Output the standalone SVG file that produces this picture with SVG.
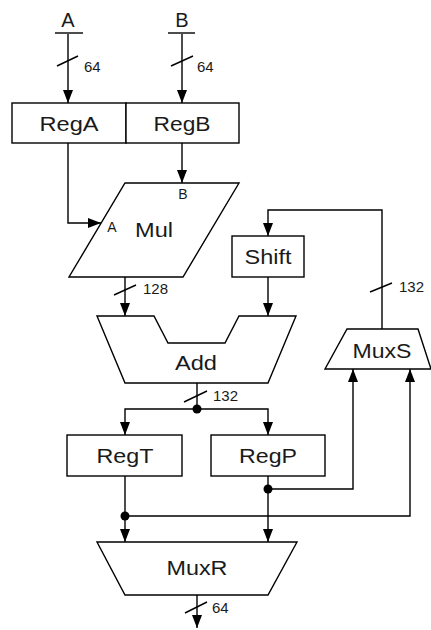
<svg xmlns="http://www.w3.org/2000/svg" width="431" height="630" viewBox="0 0 431 630">
<style>
.s{fill:#fff;stroke:#000;stroke-width:1.4}
.w{fill:none;stroke:#000;stroke-width:1.4}
.t{font-family:"Liberation Sans",Arial,sans-serif;font-size:20px;fill:#1a1a1a;text-anchor:middle}
.n{font-family:"Liberation Sans",Arial,sans-serif;font-size:15px;fill:#1a1a1a}
.p{font-family:"Liberation Sans",Arial,sans-serif;font-size:14px;fill:#1a1a1a;text-anchor:middle}
</style>
<defs>
<marker id="ah" viewBox="0 0 13 10" refX="13" refY="5" markerWidth="13" markerHeight="10" markerUnits="userSpaceOnUse" orient="auto">
<path d="M0,0 L13,5 L0,10 z" fill="#000"/>
</marker>
</defs>
<rect width="431" height="630" fill="#fff"/>
<g id="inA"><text class="t" x="68" y="27" font-size="21">A</text><line class="w" x1="55" y1="33" x2="83" y2="33"/></g>
<g id="inB"><text class="t" x="182" y="27" font-size="21">B</text><line class="w" x1="168" y1="33" x2="195" y2="33"/></g>
<g id="RegA"><rect class="s" x="12" y="103" width="114" height="40"/><text class="t" x="69" y="131" textLength="59" lengthAdjust="spacingAndGlyphs">RegA</text></g>
<g id="RegB"><rect class="s" x="126" y="103" width="113" height="40"/><text class="t" x="182" y="131" textLength="57" lengthAdjust="spacingAndGlyphs">RegB</text></g>
<g id="Mul"><polygon class="s" points="125,183 239,183 183,277 69,277"/><text class="t" x="154" y="237" textLength="38" lengthAdjust="spacingAndGlyphs">Mul</text><text class="p" x="112" y="232">A</text><text class="p" x="183" y="199" font-size="13">B</text></g>
<g id="Shift"><rect class="s" x="232" y="236" width="72" height="41"/><text class="t" x="268" y="264" textLength="47" lengthAdjust="spacingAndGlyphs">Shift</text></g>
<g id="Add"><polygon class="s" points="97,316 154,316 168,343 225,343 239,316 296,316 268,383 125,383"/><text class="t" x="196" y="370" textLength="42" lengthAdjust="spacingAndGlyphs">Add</text></g>
<g id="MuxS"><polygon class="s" points="347,329 418,329 431,369 325,369"/><text class="t" x="382" y="358" textLength="59" lengthAdjust="spacingAndGlyphs">MuxS</text></g>
<g id="RegT"><rect class="s" x="67" y="435" width="115" height="41"/><text class="t" x="125" y="463" textLength="57" lengthAdjust="spacingAndGlyphs">RegT</text></g>
<g id="RegP"><rect class="s" x="211" y="435" width="114" height="41"/><text class="t" x="268" y="463" textLength="58" lengthAdjust="spacingAndGlyphs">RegP</text></g>
<g id="MuxR"><polygon class="s" points="97,542 297,542 268,595 125,595"/><text class="t" x="197" y="575" textLength="61" lengthAdjust="spacingAndGlyphs">MuxR</text></g>
<g id="connectors">
<path class="w" d="M68,34 V103" marker-end="url(#ah)"/>
<path class="w" d="M182,34 V103" marker-end="url(#ah)"/>
<path class="w" d="M68,143 V223 H101" marker-end="url(#ah)"/>
<path class="w" d="M182,143 V183" marker-end="url(#ah)"/>
<path class="w" d="M125,277 V316" marker-end="url(#ah)"/>
<path class="w" d="M268,277 V316" marker-end="url(#ah)"/>
<path class="w" d="M382,329 V210 H268 V236" marker-end="url(#ah)"/>
<path class="w" d="M197,383 V409"/>
<path class="w" d="M197,409 H125 V435" marker-end="url(#ah)"/>
<path class="w" d="M197,409 H268 V435" marker-end="url(#ah)"/>
<path class="w" d="M125,476 V542" marker-end="url(#ah)"/>
<path class="w" d="M268,476 V542" marker-end="url(#ah)"/>
<path class="w" d="M268,489 H353 V369" marker-end="url(#ah)"/>
<path class="w" d="M125,516 H410 V369" marker-end="url(#ah)"/>
<path class="w" d="M197,595 V628" marker-end="url(#ah)"/>
<circle cx="197" cy="409" r="4.5" fill="#000"/>
<circle cx="268" cy="489" r="4.5" fill="#000"/>
<circle cx="125" cy="516" r="4.5" fill="#000"/>
<line class="w" x1="57" y1="66" x2="78" y2="56"/>
<line class="w" x1="171" y1="66" x2="193" y2="56"/>
<line class="w" x1="114" y1="295" x2="136" y2="285"/>
<line class="w" x1="370" y1="292" x2="392" y2="283"/>
<line class="w" x1="184" y1="402" x2="207" y2="391"/>
<line class="w" x1="185" y1="613" x2="207" y2="602"/>
<text class="n" x="84" y="72">64</text>
<text class="n" x="197" y="72">64</text>
<text class="n" x="143" y="294">128</text>
<text class="n" x="399" y="292">132</text>
<text class="n" x="213" y="401">132</text>
<text class="n" x="212" y="613">64</text>
</g>
</svg>
